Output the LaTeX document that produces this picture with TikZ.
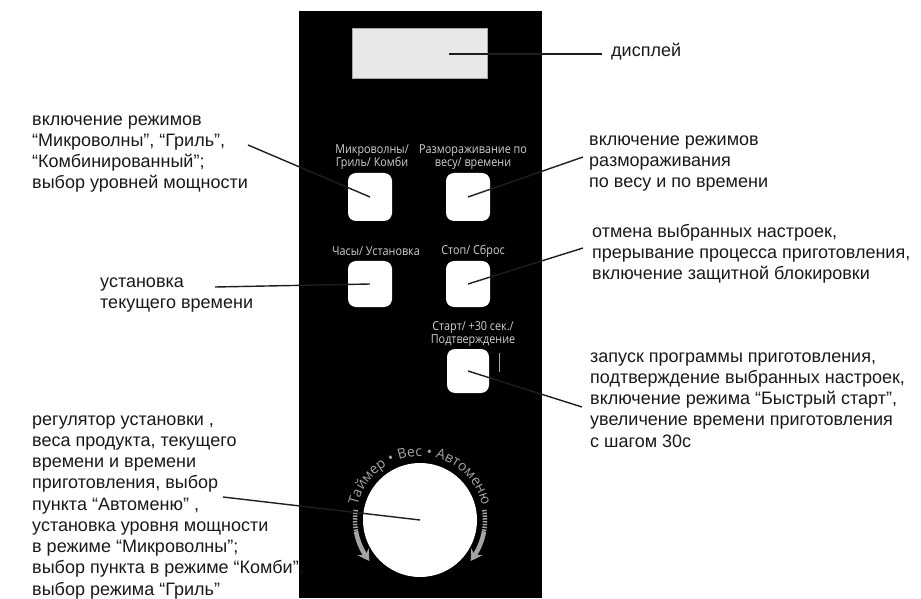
\documentclass[tikz,border=0pt]{standalone}
\usepackage{fontspec}
\setmainfont{Liberation Sans}
\newfontfamily\panelfont[FakeStretch=0.88]{Open Sans}
\newfontfamily\dialfont{Open Sans}
\usetikzlibrary{arrows.meta,decorations.text,bending,calc}
\definecolor{panelgrey}{HTML}{D2D2D2}
\definecolor{dialgrey}{HTML}{A4A4A4}
\definecolor{leader}{HTML}{1E1E1E}
\definecolor{dispfill}{HTML}{E8E8E8}
\begin{document}
\begin{tikzpicture}[x=1pt,y=1pt,
  btn/.style={draw=none, fill=white, rounded corners=8pt, inner sep=0},
  plabel/.style={text=panelgrey, font=\panelfont\fontsize{12.3}{13}\selectfont, align=center, inner sep=0},
  desc/.style={font=\fontsize{18}{21.25}\selectfont, align=left, inner sep=0, anchor=north west, text=black!90},
  leaderline/.style={draw=leader, line width=1.4pt},
]
\useasboundingbox (0,0) rectangle (921,598);
% panel
\fill[black] (299,0) rectangle (542,587);
% display
\node[draw=gray!70, fill=dispfill, minimum width=135pt, minimum height=50pt, inner sep=0, line width=0.8pt] (disp) at (419.5,545) {};
% buttons
\node[btn, minimum width=44pt, minimum height=48pt] (b1) at (370,401) {};
\node[btn, minimum width=44pt, minimum height=48pt] (b2) at (468,401) {};
\node[btn, minimum width=44pt, minimum height=46pt] (b3) at (370,314) {};
\node[btn, minimum width=44pt, minimum height=46pt] (b4) at (468,314) {};
\node[btn, minimum width=42pt, minimum height=44pt] (b5) at (468,227) {};
% panel labels
\node[plabel] (l1) at (372,440.5) {Микроволны/\\Гриль/ Комби};
\node[plabel] (l2) at (473,440.5) {Размораживание по\\весу/ времени};
\node[plabel] (l3) at (376,346.5) {Часы/ Установка};
\node[plabel] (l4) at (473,346.5) {Стоп/ Сброс};
\node[plabel] (l5) at (473,264) {Старт/ +30 сек./\\Подтверждение};
% small indicator line
\draw[gray!70, line width=1pt] (499,245) -- (499,226);
% knob
\node[circle, fill=white, minimum size=114pt, inner sep=0] (knob) at (420,78) {};
\path[decoration={text along path, text align={fit to path stretching spaces}, text color=dialgrey,
  text={|\dialfont\fontsize{14}{14}\selectfont|Таймер • Вес • Автоменю}}, decorate]
  (knob.center) ++(167:64) arc[start angle=167, end angle=13, radius=64];
% dial arrows
\draw[dialgrey, line width=4.5pt, dash pattern=on 1.5pt off 1.3pt] (knob.center) ++(171:65) arc[start angle=171, end angle=190, radius=65];
\draw[dialgrey, line width=4.5pt, -{Stealth[length=11pt,width=13pt,inset=4pt,bend]}] (knob.center) ++(190:65) arc[start angle=190, end angle=219, radius=65];
\draw[dialgrey, line width=4.5pt, dash pattern=on 1.5pt off 1.3pt] (knob.center) ++(9:65) arc[start angle=9, end angle=-10, radius=65];
\draw[dialgrey, line width=4.5pt, -{Stealth[length=11pt,width=13pt,inset=4pt,bend]}] (knob.center) ++(-10:65) arc[start angle=-10, end angle=-39, radius=65];
% descriptions
\node[font=\fontsize{18}{21.25}\selectfont, anchor=base west, inner sep=0, text=black!90] (tdisp) at (611,541) {дисплей};
\node[desc] (t1) at (32,488) {\strut включение режимов\\“Микроволны”, “Гриль”,\\“Комбинированный”;\\выбор уровней мощности};
\node[desc] (t2) at (589,468) {\strut включение режимов\\размораживания\\по весу и по времени};
\node[desc] (t3) at (100,326) {\strut установка\\текущего времени};
\node[desc] (t4) at (592,376) {\strut отмена выбранных настроек,\\прерывание процесса приготовления,\\включение защитной блокировки};
\node[desc] (t5) at (590,251) {\strut запуск программы приготовления,\\подтверждение выбранных настроек,\\включение режима “Быстрый старт”,\\увеличение времени приготовления\\с шагом 30с};
\node[desc] (t6) at (32,188) {\strut регулятор установки ,\\веса продукта, текущего\\времени и времени\\приготовления, выбор\\пункта “Автоменю” ,\\установка уровня мощности\\в режиме “Микроволны”;\\выбор пункта в режиме “Комби”,\\выбор режима “Гриль”};
% leader end points
\coordinate (cd) at (602,544);
\coordinate (c1) at (248,453);
\coordinate (c2) at (583,441);
\coordinate (c3) at (215,311);
\coordinate (c4) at (583,350);
\coordinate (c5) at (582,191);
\coordinate (c6) at (223,101);
% leaders
\draw[leaderline] ($(disp.center)+(29.5,-1)$) -- (cd);
\draw[leaderline] (b1.center) -- (c1);
\draw[leaderline] (b2.center) -- (c2);
\draw[leaderline] (b3.center) -- (c3);
\draw[leaderline] (b4.center) -- (c4);
\draw[leaderline] (b5.center) -- (c5);
\draw[leaderline] (knob.center) -- (c6);
\end{tikzpicture}
\end{document}
